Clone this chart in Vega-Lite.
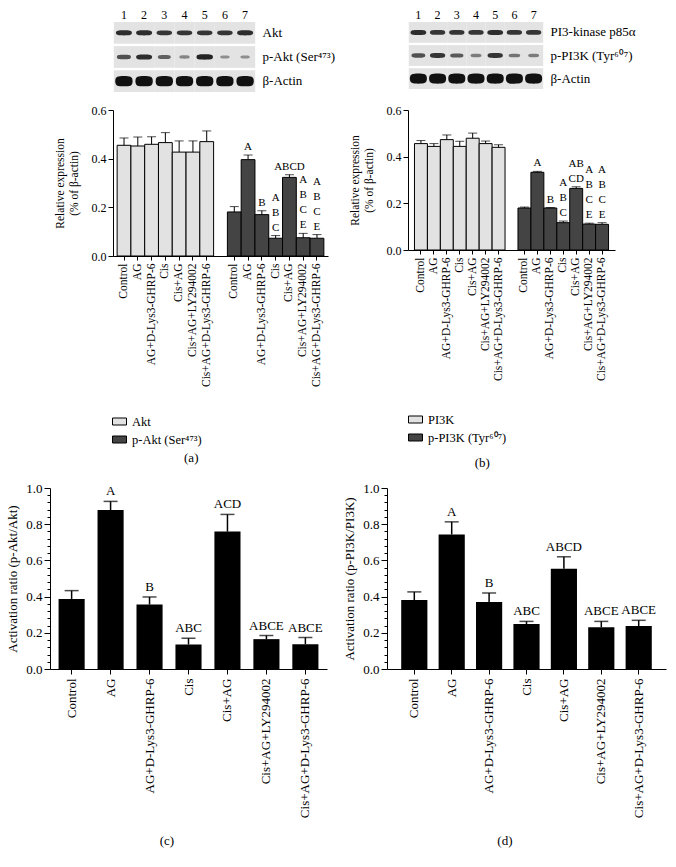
{
  "$schema": "https://vega.github.io/schema/vega-lite/v6.json",
  "background": "white",
  "padding": {"left": 6, "top": 8, "right": 4, "bottom": 4},
  "config": {
    "font": "Liberation Serif",
    "view": {"stroke": null},
    "axis": {"labelColor": "black", "titleColor": "black", "domainColor": "black", "tickColor": "black", "grid": false, "titleFontWeight": "normal", "labelFont": "Liberation Serif", "titleFont": "Liberation Serif", "labelOverlap": false},
    "axisY": {"labelOverlap": false},
    "legend": {"labelFont": "Liberation Serif", "labelColor": "black"},
    "title": {"font": "Liberation Serif", "fontWeight": "normal", "color": "black"}
  },
  "datasets": {
    "blotA": [
      {"lane": "1", "row": "Akt", "intensity": 0.85}, {"lane": "2", "row": "Akt", "intensity": 0.85}, {"lane": "3", "row": "Akt", "intensity": 0.8}, {"lane": "4", "row": "Akt", "intensity": 0.8}, {"lane": "5", "row": "Akt", "intensity": 0.8}, {"lane": "6", "row": "Akt", "intensity": 0.8}, {"lane": "7", "row": "Akt", "intensity": 0.85},
      {"lane": "1", "row": "p-Akt (Ser⁴⁷³)", "intensity": 0.65}, {"lane": "2", "row": "p-Akt (Ser⁴⁷³)", "intensity": 0.85}, {"lane": "3", "row": "p-Akt (Ser⁴⁷³)", "intensity": 0.55}, {"lane": "4", "row": "p-Akt (Ser⁴⁷³)", "intensity": 0.35}, {"lane": "5", "row": "p-Akt (Ser⁴⁷³)", "intensity": 0.9}, {"lane": "6", "row": "p-Akt (Ser⁴⁷³)", "intensity": 0.3}, {"lane": "7", "row": "p-Akt (Ser⁴⁷³)", "intensity": 0.3},
      {"lane": "1", "row": "β-Actin", "intensity": 1}, {"lane": "2", "row": "β-Actin", "intensity": 1}, {"lane": "3", "row": "β-Actin", "intensity": 1}, {"lane": "4", "row": "β-Actin", "intensity": 1}, {"lane": "5", "row": "β-Actin", "intensity": 1}, {"lane": "6", "row": "β-Actin", "intensity": 1}, {"lane": "7", "row": "β-Actin", "intensity": 1}
    ],
    "blotB": [
      {"lane": "1", "row": "PI3-kinase p85α", "intensity": 0.85}, {"lane": "2", "row": "PI3-kinase p85α", "intensity": 0.8}, {"lane": "3", "row": "PI3-kinase p85α", "intensity": 0.8}, {"lane": "4", "row": "PI3-kinase p85α", "intensity": 0.8}, {"lane": "5", "row": "PI3-kinase p85α", "intensity": 0.85}, {"lane": "6", "row": "PI3-kinase p85α", "intensity": 0.8}, {"lane": "7", "row": "PI3-kinase p85α", "intensity": 0.8},
      {"lane": "1", "row": "p-PI3K (Tyr⁶⁰⁷)", "intensity": 0.65}, {"lane": "2", "row": "p-PI3K (Tyr⁶⁰⁷)", "intensity": 0.8}, {"lane": "3", "row": "p-PI3K (Tyr⁶⁰⁷)", "intensity": 0.6}, {"lane": "4", "row": "p-PI3K (Tyr⁶⁰⁷)", "intensity": 0.4}, {"lane": "5", "row": "p-PI3K (Tyr⁶⁰⁷)", "intensity": 0.8}, {"lane": "6", "row": "p-PI3K (Tyr⁶⁰⁷)", "intensity": 0.45}, {"lane": "7", "row": "p-PI3K (Tyr⁶⁰⁷)", "intensity": 0.4},
      {"lane": "1", "row": "β-Actin", "intensity": 1}, {"lane": "2", "row": "β-Actin", "intensity": 1}, {"lane": "3", "row": "β-Actin", "intensity": 1}, {"lane": "4", "row": "β-Actin", "intensity": 1}, {"lane": "5", "row": "β-Actin", "intensity": 1}, {"lane": "6", "row": "β-Actin", "intensity": 1}, {"lane": "7", "row": "β-Actin", "intensity": 1}
    ],
    "exprA": [
      {"key": "1|Control", "group": "Akt", "value": 0.455, "upper": 0.485, "sig": ""},
      {"key": "1|AG", "group": "Akt", "value": 0.452, "upper": 0.489, "sig": ""},
      {"key": "1|AG+D-Lys3-GHRP-6", "group": "Akt", "value": 0.459, "upper": 0.49, "sig": ""},
      {"key": "1|Cis", "group": "Akt", "value": 0.466, "upper": 0.507, "sig": ""},
      {"key": "1|Cis+AG", "group": "Akt", "value": 0.427, "upper": 0.473, "sig": ""},
      {"key": "1|Cis+AG+LY294002", "group": "Akt", "value": 0.427, "upper": 0.473, "sig": ""},
      {"key": "1|Cis+AG+D-Lys3-GHRP-6", "group": "Akt", "value": 0.47, "upper": 0.514, "sig": ""},
      {"key": "2|Control", "group": "p-Akt (Ser⁴⁷³)", "value": 0.181, "upper": 0.203, "sig": ""},
      {"key": "2|AG", "group": "p-Akt (Ser⁴⁷³)", "value": 0.396, "upper": 0.415, "sig": "A"},
      {"key": "2|AG+D-Lys3-GHRP-6", "group": "p-Akt (Ser⁴⁷³)", "value": 0.17, "upper": 0.186, "sig": "B"},
      {"key": "2|Cis", "group": "p-Akt (Ser⁴⁷³)", "value": 0.073, "upper": 0.084, "sig": "A\nB\nC"},
      {"key": "2|Cis+AG", "group": "p-Akt (Ser⁴⁷³)", "value": 0.323, "upper": 0.334, "sig": "ABCD"},
      {"key": "2|Cis+AG+LY294002", "group": "p-Akt (Ser⁴⁷³)", "value": 0.075, "upper": 0.093, "sig": "A\nB\nC\nE"},
      {"key": "2|Cis+AG+D-Lys3-GHRP-6", "group": "p-Akt (Ser⁴⁷³)", "value": 0.073, "upper": 0.088, "sig": "A\nB\nC\nE"}
    ],
    "exprB": [
      {"key": "1|Control", "group": "PI3K", "value": 0.456, "upper": 0.469, "sig": ""},
      {"key": "1|AG", "group": "PI3K", "value": 0.444, "upper": 0.456, "sig": ""},
      {"key": "1|AG+D-Lys3-GHRP-6", "group": "PI3K", "value": 0.473, "upper": 0.493, "sig": ""},
      {"key": "1|Cis", "group": "PI3K", "value": 0.444, "upper": 0.466, "sig": ""},
      {"key": "1|Cis+AG", "group": "PI3K", "value": 0.479, "upper": 0.501, "sig": ""},
      {"key": "1|Cis+AG+LY294002", "group": "PI3K", "value": 0.456, "upper": 0.467, "sig": ""},
      {"key": "1|Cis+AG+D-Lys3-GHRP-6", "group": "PI3K", "value": 0.44, "upper": 0.451, "sig": ""},
      {"key": "2|Control", "group": "p-PI3K (Tyr⁶⁰⁷)", "value": 0.18, "upper": 0.184, "sig": ""},
      {"key": "2|AG", "group": "p-PI3K (Tyr⁶⁰⁷)", "value": 0.333, "upper": 0.337, "sig": "A"},
      {"key": "2|AG+D-Lys3-GHRP-6", "group": "p-PI3K (Tyr⁶⁰⁷)", "value": 0.18, "upper": 0.182, "sig": "B"},
      {"key": "2|Cis", "group": "p-PI3K (Tyr⁶⁰⁷)", "value": 0.117, "upper": 0.124, "sig": "A\nB\nC"},
      {"key": "2|Cis+AG", "group": "p-PI3K (Tyr⁶⁰⁷)", "value": 0.264, "upper": 0.271, "sig": "AB\nCD"},
      {"key": "2|Cis+AG+LY294002", "group": "p-PI3K (Tyr⁶⁰⁷)", "value": 0.111, "upper": 0.115, "sig": "A\nB\nC\nE"},
      {"key": "2|Cis+AG+D-Lys3-GHRP-6", "group": "p-PI3K (Tyr⁶⁰⁷)", "value": 0.11, "upper": 0.117, "sig": "A\nB\nC\nE"}
    ],
    "ratioC": [
      {"treat": "Control", "value": 0.387, "upper": 0.433, "sig": ""},
      {"treat": "AG", "value": 0.878, "upper": 0.926, "sig": "A"},
      {"treat": "AG+D-Lys3-GHRP-6", "value": 0.356, "upper": 0.398, "sig": "B"},
      {"treat": "Cis", "value": 0.135, "upper": 0.17, "sig": "ABC"},
      {"treat": "Cis+AG", "value": 0.759, "upper": 0.854, "sig": "ACD"},
      {"treat": "Cis+AG+LY294002", "value": 0.165, "upper": 0.185, "sig": "ABCE"},
      {"treat": "Cis+AG+D-Lys3-GHRP-6", "value": 0.137, "upper": 0.174, "sig": "ABCE"}
    ],
    "ratioD": [
      {"treat": "Control", "value": 0.381, "upper": 0.426, "sig": ""},
      {"treat": "AG", "value": 0.743, "upper": 0.813, "sig": "A"},
      {"treat": "AG+D-Lys3-GHRP-6", "value": 0.37, "upper": 0.42, "sig": "B"},
      {"treat": "Cis", "value": 0.248, "upper": 0.263, "sig": "ABC"},
      {"treat": "Cis+AG", "value": 0.554, "upper": 0.62, "sig": "ABCD"},
      {"treat": "Cis+AG+LY294002", "value": 0.231, "upper": 0.263, "sig": "ABCE"},
      {"treat": "Cis+AG+D-Lys3-GHRP-6", "value": 0.237, "upper": 0.269, "sig": "ABCE"}
    ],
    "spacer": [{"v": 0}]
  },
  "spacing": 12,
  "resolve": {"scale": {"fill": "independent", "shape": "independent", "size": "independent", "opacity": "independent"}, "legend": {"fill": "independent"}},
  "vconcat": [
    {
      "spacing": 0,
      "resolve": {"scale": {"fill": "independent", "shape": "independent", "size": "independent", "opacity": "independent"}, "legend": {"fill": "independent"}},
      "hconcat": [
        {"width": 1, "height": 1, "data": {"name": "spacer"}, "mark": {"type": "point", "opacity": 0}, "encoding": {}},
        {
          "spacing": 14,
          "resolve": {"scale": {"fill": "independent", "shape": "independent", "size": "independent", "opacity": "independent"}, "legend": {"fill": "independent"}},
          "hconcat": [
            {
              "spacing": 12,
              "vconcat": [
                {
                  "width": 143, "height": 70,
                  "data": {"name": "blotA"},
                  "encoding": {
                    "x": {"field": "lane", "type": "ordinal", "scale": {"paddingInner": 0, "paddingOuter": 0.04}, "axis": {"orient": "top", "title": null, "domain": false, "ticks": false, "labelAngle": 0, "labelFontSize": 12, "labelPadding": 1}},
                    "y": {"field": "row", "type": "nominal", "scale": {"domain": ["Akt", "p-Akt (Ser⁴⁷³)", "β-Actin"], "paddingInner": 0.1, "paddingOuter": 0}, "axis": {"orient": "right", "title": null, "domain": false, "ticks": false, "labelFontSize": 13, "labelPadding": 6}}
                  },
                  "layer": [
                    {"mark": {"type": "rect", "color": "#e3e3e3"}},
                    {"mark": {"type": "point", "filled": true, "color": "#111111"},
                     "encoding": {
                       "shape": {"field": "row", "type": "nominal", "scale": {"domain": ["Akt", "p-Akt (Ser⁴⁷³)", "β-Actin"], "range": ["M-1,0C-1,-0.3 -0.7,-0.32 0,-0.32C0.7,-0.32 1,-0.3 1,0C1,0.3 0.7,0.32 0,0.32C-0.7,0.32 -1,0.3 -1,0Z", "M-1,0C-1,-0.3 -0.7,-0.32 0,-0.32C0.7,-0.32 1,-0.3 1,0C1,0.3 0.7,0.32 0,0.32C-0.7,0.32 -1,0.3 -1,0Z", "M-1,0C-1,-0.55 -0.7,-0.6 0,-0.6C0.7,-0.6 1,-0.55 1,0C1,0.55 0.7,0.6 0,0.6C-0.7,0.6 -1,0.55 -1,0Z"]}, "legend": null},
                       "size": {"field": "intensity", "type": "quantitative", "scale": {"domain": [0, 1], "range": [0, 300]}, "legend": null},
                       "opacity": {"field": "intensity", "type": "quantitative", "scale": {"domain": [0, 1], "range": [0.15, 1]}, "legend": null}
                     }}
                  ]
                },
                {
                  "width": 215, "height": 146,
                  "data": {"name": "exprA"},
                  "title": {"text": "(a)", "orient": "bottom", "frame": "bounds", "anchor": "middle", "offset": 65, "fontSize": 13},
                  "encoding": {
                    "x": {"field": "key", "type": "nominal", "scale": {"domain": ["1|Control", "1|AG", "1|AG+D-Lys3-GHRP-6", "1|Cis", "1|Cis+AG", "1|Cis+AG+LY294002", "1|Cis+AG+D-Lys3-GHRP-6", "gap", "2|Control", "2|AG", "2|AG+D-Lys3-GHRP-6", "2|Cis", "2|Cis+AG", "2|Cis+AG+LY294002", "2|Cis+AG+D-Lys3-GHRP-6"], "paddingInner": 0, "paddingOuter": 0.3},
                      "axis": {"title": null, "labelAngle": -90, "labelFontSize": 11.5, "tickSize": 4, "labelPadding": 3, "labelExpr": "indexof(datum.value, '|') > 0 ? split(datum.value, '|')[1] : ''", "tickOpacity": {"condition": {"test": "datum.value === 'gap'", "value": 0}, "value": 1}}}
                  },
                  "layer": [
                    {"mark": {"type": "bar", "stroke": "black", "strokeWidth": 1},
                     "encoding": {
                       "y": {"field": "value", "type": "quantitative", "scale": {"domain": [0, 0.6]}, "axis": {"values": [0, 0.2, 0.4, 0.6], "format": ".1f", "labelOverlap": false, "title": ["Relative expression", "(% of β-actin)"], "titleFontSize": 11.5, "labelFontSize": 12, "tickSize": 5, "titlePadding": 12}},
                       "fill": {"field": "group", "type": "nominal", "scale": {"domain": ["Akt", "p-Akt (Ser⁴⁷³)"], "range": ["#e2e2e2", "#444444"]},
                         "legend": {"orient": "none", "legendX": -1, "legendY": 392, "title": null, "padding": 0, "symbolType": "M-1,-0.5H1V0.5H-1Z", "symbolSize": 196, "symbolStrokeColor": "black", "symbolStrokeWidth": 1, "labelFontSize": 12.5, "rowPadding": 4, "labelOffset": 5}}
                     }},
                    {"mark": {"type": "rule", "color": "black", "strokeWidth": 1}, "encoding": {"y": {"field": "value", "type": "quantitative"}, "y2": {"field": "upper"}}},
                    {"mark": {"type": "tick", "color": "black", "size": 9, "thickness": 1}, "encoding": {"y": {"field": "upper", "type": "quantitative"}}},
                    {"mark": {"type": "text", "baseline": "bottom", "dy": {"expr": "-3 - 15 * (length(split(datum.sig, '\\n')) - 1)"}, "fontSize": 11, "lineBreak": "\n", "lineHeight": 15, "color": "black"}, "encoding": {"y": {"field": "upper", "type": "quantitative"}, "text": {"field": "sig"}}}
                  ]
                }
              ]
            },
            {
              "spacing": 15,
              "vconcat": [
                {
                  "width": 136, "height": 67,
                  "data": {"name": "blotB"},
                  "encoding": {
                    "x": {"field": "lane", "type": "ordinal", "scale": {"paddingInner": 0, "paddingOuter": 0.04}, "axis": {"orient": "top", "title": null, "domain": false, "ticks": false, "labelAngle": 0, "labelFontSize": 12, "labelPadding": 1}},
                    "y": {"field": "row", "type": "nominal", "scale": {"domain": ["PI3-kinase p85α", "p-PI3K (Tyr⁶⁰⁷)", "β-Actin"], "paddingInner": 0.1, "paddingOuter": 0}, "axis": {"orient": "right", "title": null, "domain": false, "ticks": false, "labelFontSize": 13, "labelPadding": 6}}
                  },
                  "layer": [
                    {"mark": {"type": "rect", "color": "#e3e3e3"}},
                    {"mark": {"type": "point", "filled": true, "color": "#111111"},
                     "encoding": {
                       "shape": {"field": "row", "type": "nominal", "scale": {"domain": ["PI3-kinase p85α", "p-PI3K (Tyr⁶⁰⁷)", "β-Actin"], "range": ["M-1,0C-1,-0.3 -0.7,-0.32 0,-0.32C0.7,-0.32 1,-0.3 1,0C1,0.3 0.7,0.32 0,0.32C-0.7,0.32 -1,0.3 -1,0Z", "M-1,0C-1,-0.3 -0.7,-0.32 0,-0.32C0.7,-0.32 1,-0.3 1,0C1,0.3 0.7,0.32 0,0.32C-0.7,0.32 -1,0.3 -1,0Z", "M-1,0C-1,-0.55 -0.7,-0.6 0,-0.6C0.7,-0.6 1,-0.55 1,0C1,0.55 0.7,0.6 0,0.6C-0.7,0.6 -1,0.55 -1,0Z"]}, "legend": null},
                       "size": {"field": "intensity", "type": "quantitative", "scale": {"domain": [0, 1], "range": [0, 290]}, "legend": null},
                       "opacity": {"field": "intensity", "type": "quantitative", "scale": {"domain": [0, 1], "range": [0.15, 1]}, "legend": null}
                     }}
                  ]
                },
                {
                  "width": 207, "height": 140,
                  "data": {"name": "exprB"},
                  "title": {"text": "(b)", "orient": "bottom", "frame": "bounds", "anchor": "middle", "offset": 76, "fontSize": 13},
                  "encoding": {
                    "x": {"field": "key", "type": "nominal", "scale": {"domain": ["1|Control", "1|AG", "1|AG+D-Lys3-GHRP-6", "1|Cis", "1|Cis+AG", "1|Cis+AG+LY294002", "1|Cis+AG+D-Lys3-GHRP-6", "gap", "2|Control", "2|AG", "2|AG+D-Lys3-GHRP-6", "2|Cis", "2|Cis+AG", "2|Cis+AG+LY294002", "2|Cis+AG+D-Lys3-GHRP-6"], "paddingInner": 0, "paddingOuter": 0.5},
                      "axis": {"title": null, "labelAngle": -90, "labelFontSize": 11.5, "tickSize": 4, "labelPadding": 3, "labelExpr": "indexof(datum.value, '|') > 0 ? split(datum.value, '|')[1] : ''", "tickOpacity": {"condition": {"test": "datum.value === 'gap'", "value": 0}, "value": 1}}}
                  },
                  "layer": [
                    {"mark": {"type": "bar", "stroke": "black", "strokeWidth": 1},
                     "encoding": {
                       "y": {"field": "value", "type": "quantitative", "scale": {"domain": [0, 0.6]}, "axis": {"values": [0, 0.2, 0.4, 0.6], "format": ".1f", "labelOverlap": false, "title": ["Relative expression", "(% of β-actin)"], "titleFontSize": 11.5, "labelFontSize": 12, "tickSize": 5, "titlePadding": 12}},
                       "fill": {"field": "group", "type": "nominal", "scale": {"domain": ["PI3K", "p-PI3K (Tyr⁶⁰⁷)"], "range": ["#e2e2e2", "#444444"]},
                         "legend": {"orient": "none", "legendX": 0, "legendY": 390, "title": null, "padding": 0, "symbolType": "M-1,-0.5H1V0.5H-1Z", "symbolSize": 196, "symbolStrokeColor": "black", "symbolStrokeWidth": 1, "labelFontSize": 12.5, "rowPadding": 4, "labelOffset": 5}}
                     }},
                    {"mark": {"type": "rule", "color": "black", "strokeWidth": 1}, "encoding": {"y": {"field": "value", "type": "quantitative"}, "y2": {"field": "upper"}}},
                    {"mark": {"type": "tick", "color": "black", "size": 9, "thickness": 1}, "encoding": {"y": {"field": "upper", "type": "quantitative"}}},
                    {"mark": {"type": "text", "baseline": "bottom", "dy": {"expr": "-3 - 15 * (length(split(datum.sig, '\\n')) - 1)"}, "fontSize": 11, "lineBreak": "\n", "lineHeight": 15, "color": "black"}, "encoding": {"y": {"field": "upper", "type": "quantitative"}, "text": {"field": "sig"}}}
                  ]
                }
              ]
            }
          ]
        }
      ]
    },
    {
      "spacing": 16,
      "hconcat": [
        {
          "width": 277, "height": 181,
          "data": {"name": "ratioC"},
          "title": {"text": "(c)", "orient": "bottom", "frame": "bounds", "anchor": "middle", "offset": 17, "fontSize": 13},
          "encoding": {"x": {"field": "treat", "type": "nominal", "sort": null, "scale": {"paddingInner": 0.33, "paddingOuter": 0.22}, "axis": {"title": null, "labelAngle": -90, "labelFontSize": 13, "tickSize": 5, "labelPadding": 4}}},
          "layer": [
            {"mark": {"type": "bar", "color": "black"}, "encoding": {"y": {"field": "value", "type": "quantitative", "scale": {"domain": [0, 1]}, "axis": {"values": [0, 0.04, 0.08, 0.12, 0.16, 0.2, 0.24, 0.28, 0.32, 0.36, 0.4, 0.44, 0.48, 0.52, 0.56, 0.6, 0.64, 0.68, 0.72, 0.76, 0.8, 0.84, 0.88, 0.92, 0.96, 1.0], "labelExpr": "abs(datum.value * 5 - round(datum.value * 5)) < 0.001 ? format(datum.value, '.1f') : ''", "tickSize": {"condition": {"test": "abs(datum.value * 5 - round(datum.value * 5)) < 0.001", "value": 6}, "value": 3}, "labelOverlap": false, "title": "Activation ratio (p-Akt/Akt)", "titleFontSize": 13, "labelFontSize": 13, "titlePadding": 6}}}},
            {"mark": {"type": "rule", "color": "black", "strokeWidth": 1.5}, "encoding": {"y": {"field": "value", "type": "quantitative", "axis": {"values": [0, 0.04, 0.08, 0.12, 0.16, 0.2, 0.24, 0.28, 0.32, 0.36, 0.4, 0.44, 0.48, 0.52, 0.56, 0.6, 0.64, 0.68, 0.72, 0.76, 0.8, 0.84, 0.88, 0.92, 0.96, 1.0], "labelExpr": "abs(datum.value * 5 - round(datum.value * 5)) < 0.001 ? format(datum.value, '.1f') : ''", "tickSize": {"condition": {"test": "abs(datum.value * 5 - round(datum.value * 5)) < 0.001", "value": 6}, "value": 3}, "labelOverlap": false, "title": "Activation ratio (p-Akt/Akt)", "titleFontSize": 13, "labelFontSize": 13, "titlePadding": 6}}, "y2": {"field": "upper"}}},
            {"mark": {"type": "tick", "color": "black", "size": 14, "thickness": 1.5}, "encoding": {"y": {"field": "upper", "type": "quantitative", "axis": {"values": [0, 0.04, 0.08, 0.12, 0.16, 0.2, 0.24, 0.28, 0.32, 0.36, 0.4, 0.44, 0.48, 0.52, 0.56, 0.6, 0.64, 0.68, 0.72, 0.76, 0.8, 0.84, 0.88, 0.92, 0.96, 1.0], "labelExpr": "abs(datum.value * 5 - round(datum.value * 5)) < 0.001 ? format(datum.value, '.1f') : ''", "tickSize": {"condition": {"test": "abs(datum.value * 5 - round(datum.value * 5)) < 0.001", "value": 6}, "value": 3}, "labelOverlap": false, "title": "Activation ratio (p-Akt/Akt)", "titleFontSize": 13, "labelFontSize": 13, "titlePadding": 6}}}},
            {"mark": {"type": "text", "baseline": "bottom", "dy": -3, "fontSize": 13, "color": "black"}, "encoding": {"y": {"field": "upper", "type": "quantitative", "axis": {"values": [0, 0.04, 0.08, 0.12, 0.16, 0.2, 0.24, 0.28, 0.32, 0.36, 0.4, 0.44, 0.48, 0.52, 0.56, 0.6, 0.64, 0.68, 0.72, 0.76, 0.8, 0.84, 0.88, 0.92, 0.96, 1.0], "labelExpr": "abs(datum.value * 5 - round(datum.value * 5)) < 0.001 ? format(datum.value, '.1f') : ''", "tickSize": {"condition": {"test": "abs(datum.value * 5 - round(datum.value * 5)) < 0.001", "value": 6}, "value": 3}, "labelOverlap": false, "title": "Activation ratio (p-Akt/Akt)", "titleFontSize": 13, "labelFontSize": 13, "titlePadding": 6}}, "text": {"field": "sig"}}}
          ]
        },
        {
          "width": 279, "height": 181,
          "data": {"name": "ratioD"},
          "title": {"text": "(d)", "orient": "bottom", "frame": "bounds", "anchor": "middle", "offset": 17, "fontSize": 13},
          "encoding": {"x": {"field": "treat", "type": "nominal", "sort": null, "scale": {"paddingInner": 0.3, "paddingOuter": 0.38}, "axis": {"title": null, "labelAngle": -90, "labelFontSize": 13, "tickSize": 5, "labelPadding": 4}}},
          "layer": [
            {"mark": {"type": "bar", "color": "black"}, "encoding": {"y": {"field": "value", "type": "quantitative", "scale": {"domain": [0, 1]}, "axis": {"values": [0, 0.04, 0.08, 0.12, 0.16, 0.2, 0.24, 0.28, 0.32, 0.36, 0.4, 0.44, 0.48, 0.52, 0.56, 0.6, 0.64, 0.68, 0.72, 0.76, 0.8, 0.84, 0.88, 0.92, 0.96, 1.0], "labelExpr": "abs(datum.value * 5 - round(datum.value * 5)) < 0.001 ? format(datum.value, '.1f') : ''", "tickSize": {"condition": {"test": "abs(datum.value * 5 - round(datum.value * 5)) < 0.001", "value": 6}, "value": 3}, "labelOverlap": false, "title": "Activation ratio (p-PI3K/PI3K)", "titleFontSize": 13, "labelFontSize": 13, "titlePadding": 6}}}},
            {"mark": {"type": "rule", "color": "black", "strokeWidth": 1.5}, "encoding": {"y": {"field": "value", "type": "quantitative", "axis": {"values": [0, 0.04, 0.08, 0.12, 0.16, 0.2, 0.24, 0.28, 0.32, 0.36, 0.4, 0.44, 0.48, 0.52, 0.56, 0.6, 0.64, 0.68, 0.72, 0.76, 0.8, 0.84, 0.88, 0.92, 0.96, 1.0], "labelExpr": "abs(datum.value * 5 - round(datum.value * 5)) < 0.001 ? format(datum.value, '.1f') : ''", "tickSize": {"condition": {"test": "abs(datum.value * 5 - round(datum.value * 5)) < 0.001", "value": 6}, "value": 3}, "labelOverlap": false, "title": "Activation ratio (p-PI3K/PI3K)", "titleFontSize": 13, "labelFontSize": 13, "titlePadding": 6}}, "y2": {"field": "upper"}}},
            {"mark": {"type": "tick", "color": "black", "size": 14, "thickness": 1.5}, "encoding": {"y": {"field": "upper", "type": "quantitative", "axis": {"values": [0, 0.04, 0.08, 0.12, 0.16, 0.2, 0.24, 0.28, 0.32, 0.36, 0.4, 0.44, 0.48, 0.52, 0.56, 0.6, 0.64, 0.68, 0.72, 0.76, 0.8, 0.84, 0.88, 0.92, 0.96, 1.0], "labelExpr": "abs(datum.value * 5 - round(datum.value * 5)) < 0.001 ? format(datum.value, '.1f') : ''", "tickSize": {"condition": {"test": "abs(datum.value * 5 - round(datum.value * 5)) < 0.001", "value": 6}, "value": 3}, "labelOverlap": false, "title": "Activation ratio (p-PI3K/PI3K)", "titleFontSize": 13, "labelFontSize": 13, "titlePadding": 6}}}},
            {"mark": {"type": "text", "baseline": "bottom", "dy": -3, "fontSize": 13, "color": "black"}, "encoding": {"y": {"field": "upper", "type": "quantitative", "axis": {"values": [0, 0.04, 0.08, 0.12, 0.16, 0.2, 0.24, 0.28, 0.32, 0.36, 0.4, 0.44, 0.48, 0.52, 0.56, 0.6, 0.64, 0.68, 0.72, 0.76, 0.8, 0.84, 0.88, 0.92, 0.96, 1.0], "labelExpr": "abs(datum.value * 5 - round(datum.value * 5)) < 0.001 ? format(datum.value, '.1f') : ''", "tickSize": {"condition": {"test": "abs(datum.value * 5 - round(datum.value * 5)) < 0.001", "value": 6}, "value": 3}, "labelOverlap": false, "title": "Activation ratio (p-PI3K/PI3K)", "titleFontSize": 13, "labelFontSize": 13, "titlePadding": 6}}, "text": {"field": "sig"}}}
          ]
        }
      ]
    }
  ]
}
